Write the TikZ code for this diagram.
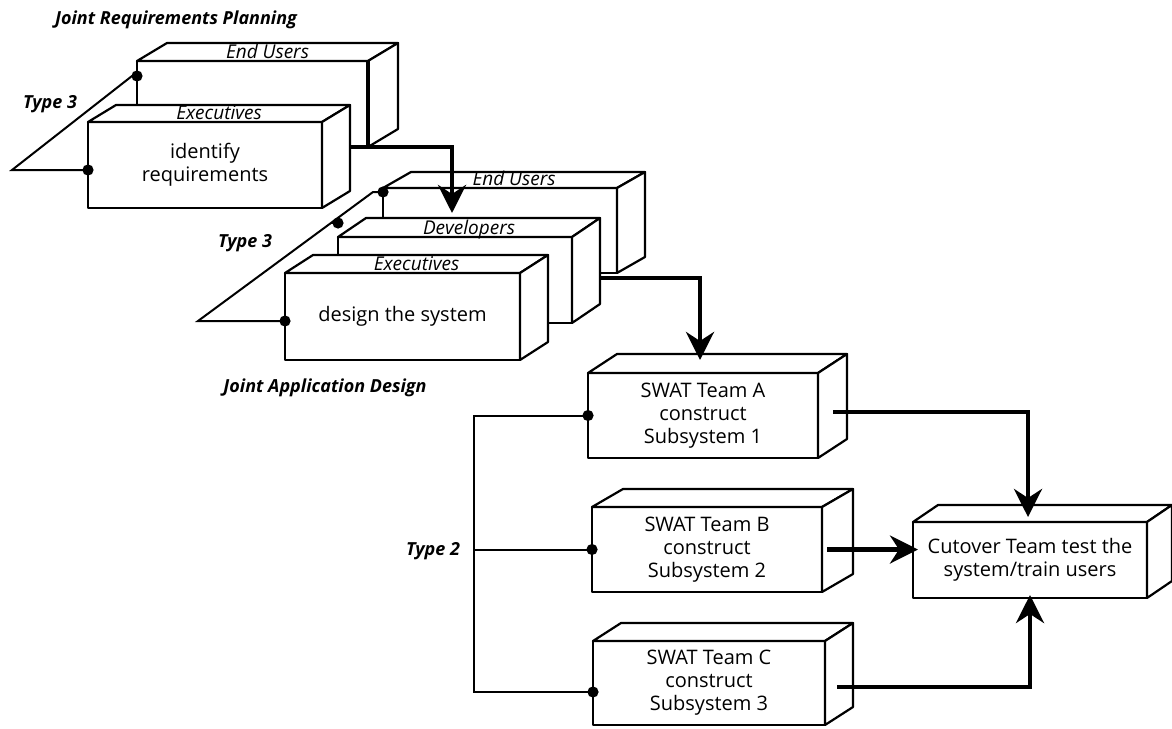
\documentclass[tikz,border=0pt]{standalone}
\usepackage{fontspec}
\setmainfont{Open Sans}
\usetikzlibrary{arrows.meta,calc}

\tikzset{
  edge/.style={line width=1.1pt, line join=round},
  face/.style={edge, draw=black, fill=white},
  front/.style={face, rectangle, inner sep=0pt, outer sep=0pt, align=center,
    font=\fontsize{10}{11.5}\selectfont},
  toplabel/.style={anchor=base, inner sep=0pt, font=\fontsize{9.5}{11}\selectfont\itshape},
  title/.style={inner sep=0pt, font=\fontsize{9}{11}\selectfont\bfseries\itshape},
  link/.style={line width=1pt},
  flow/.style={line width=2.2pt, -{Stealth[length=14pt,width=14pt,inset=4.5pt]}},
  heavy/.style={line width=2.2pt},
  dot/.style={circle, fill=black, inner sep=0pt, minimum size=5.6pt},
}

% cuboid: name, x1, y1, x2, y2 (front face), depth dx, dy, front text
\newcommand\cuboid[8]{%
  \node[front, minimum width={(#4-#2)*0.5pt}, minimum height={(#5-#3)*0.5pt}]
    (#1) at ({(#2+#4)/2},{(#3+#5)/2}) {#8};
  \draw[face] (#1.north west) -- ++(#6,-#7) -- ($(#1.north east)+(#6,-#7)$)
    -- (#1.north east) -- cycle;
  \draw[face] (#1.north east) -- ++(#6,-#7) -- ($(#1.south east)+(#6,-#7)$)
    -- (#1.south east) -- cycle;
}

\begin{document}
\begin{tikzpicture}[x=0.5pt, y=-0.5pt]
\useasboundingbox (0,0) rectangle (1172,728);

% ---- Joint Requirements Planning ----
\node[title] (jrpTitle) at (176,20) {Joint Requirements Planning};
\coordinate (jrpA) at (12,170);
\coordinate (jrpB) at (132,76);
\cuboid{jrpEU}{137}{61}{368}{147}{30}{18}{}
\node[toplabel] (jrpEUlab) at ($(jrpEU.north)+(15,-3)$) {End Users};
\draw[heavy] (jrpEU.north east) -- (jrpEU.south east);
\cuboid{jrpEx}{88}{122}{322}{208}{28}{17}{identify\\requirements}
\node[toplabel] (jrpExlab) at ($(jrpEx.north)+(14,-3)$) {Executives};
\draw[link] (jrpEU.west |- jrpB) -- (jrpB) -- (jrpA) -- (jrpA -| jrpEx.west);
\node[dot] (jrpD1) at (jrpEU.west |- jrpB) {};
\node[dot] (jrpD2) at (jrpA -| jrpEx.west) {};
\node[title] (jrpType) at (50,104) {Type 3};

% ---- Joint Application Design ----
\coordinate (jadA) at (198,321);
\coordinate (jadB) at (373,192);
\coordinate (jadM) at (331,223);
\cuboid{jadEU}{383}{188}{617}{273}{28}{16}{}
\node[toplabel] (jadEUlab) at ($(jadEU.north)+(14,-3)$) {End Users};
\cuboid{jadDev}{338}{237}{572}{323}{28}{19}{}
\node[toplabel] (jadDevlab) at ($(jadDev.north)+(14,-3)$) {Developers};
\cuboid{jadEx}{285}{273}{520}{360}{28}{18}{design the system}
\node[toplabel] (jadExlab) at ($(jadEx.north)+(14,-3)$) {Executives};
\draw[link] (jadEU.west |- jadB) -- (jadB) -- (jadA) -- (jadA -| jadEx.west);
\draw[link] (jadM) -- (jadM -| jadDev.west);
\node[dot] (jadD1) at (jadEU.west |- jadB) {};
\node[dot] (jadD2) at (jadM -| jadDev.west) {};
\node[dot] (jadD3) at (jadA -| jadEx.west) {};
\node[title] (jadType) at (245,243) {Type 3};
\node[title] (jadTitle) at (325,388) {Joint Application Design};

% ---- SWAT teams and cutover ----
\cuboid{swatA}{588}{373}{818}{458}{29}{19}{SWAT Team A\\construct\\Subsystem 1}
\cuboid{swatB}{592}{507}{822}{592}{31}{18}{SWAT Team B\\construct\\Subsystem 2}
\cuboid{swatC}{593}{641}{825}{725}{28}{18}{SWAT Team C\\construct\\Subsystem 3}
\cuboid{cut}{913}{522}{1147}{598}{25}{17}{Cutover Team test the\\system/train users}

\coordinate (t2x) at (474,0);
\coordinate (t2c) at (474,692);
\draw[link] (swatA.west) -- (swatA.west -| t2x) -- (t2c) -- (t2c -| swatC.west);
\draw[link] (swatB.west -| t2x) -- (swatB.west);
\node[dot] (t2D1) at (swatA.west) {};
\node[dot] (t2D2) at (swatB.west) {};
\node[dot] (t2D3) at (t2c -| swatC.west) {};
\node[title] (t2Type) at (433,551) {Type 2};

% ---- flows between phases ----
\draw[flow] ($(jrpEx.east)+(28,-18)$) -| ($(jadEU.north)+(-48,25)$);
\draw[flow] ($(jadDev.east)+(28,-2)$) -| ($(swatA.north)+(-3,-13)$);
\draw[flow] ($(swatA.east)+(15,-3.5)$) -| ($(cut.north)+(-2,-5)$);
\draw[flow] ($(swatB.east)+(5,0)$) -- ($(swatB.east -| cut.west)+(5,0)$);
\draw[flow] ($(swatC.east)+(12,4)$) -| ($(cut.south)+(0,-3)$);
\end{tikzpicture}
\end{document}
